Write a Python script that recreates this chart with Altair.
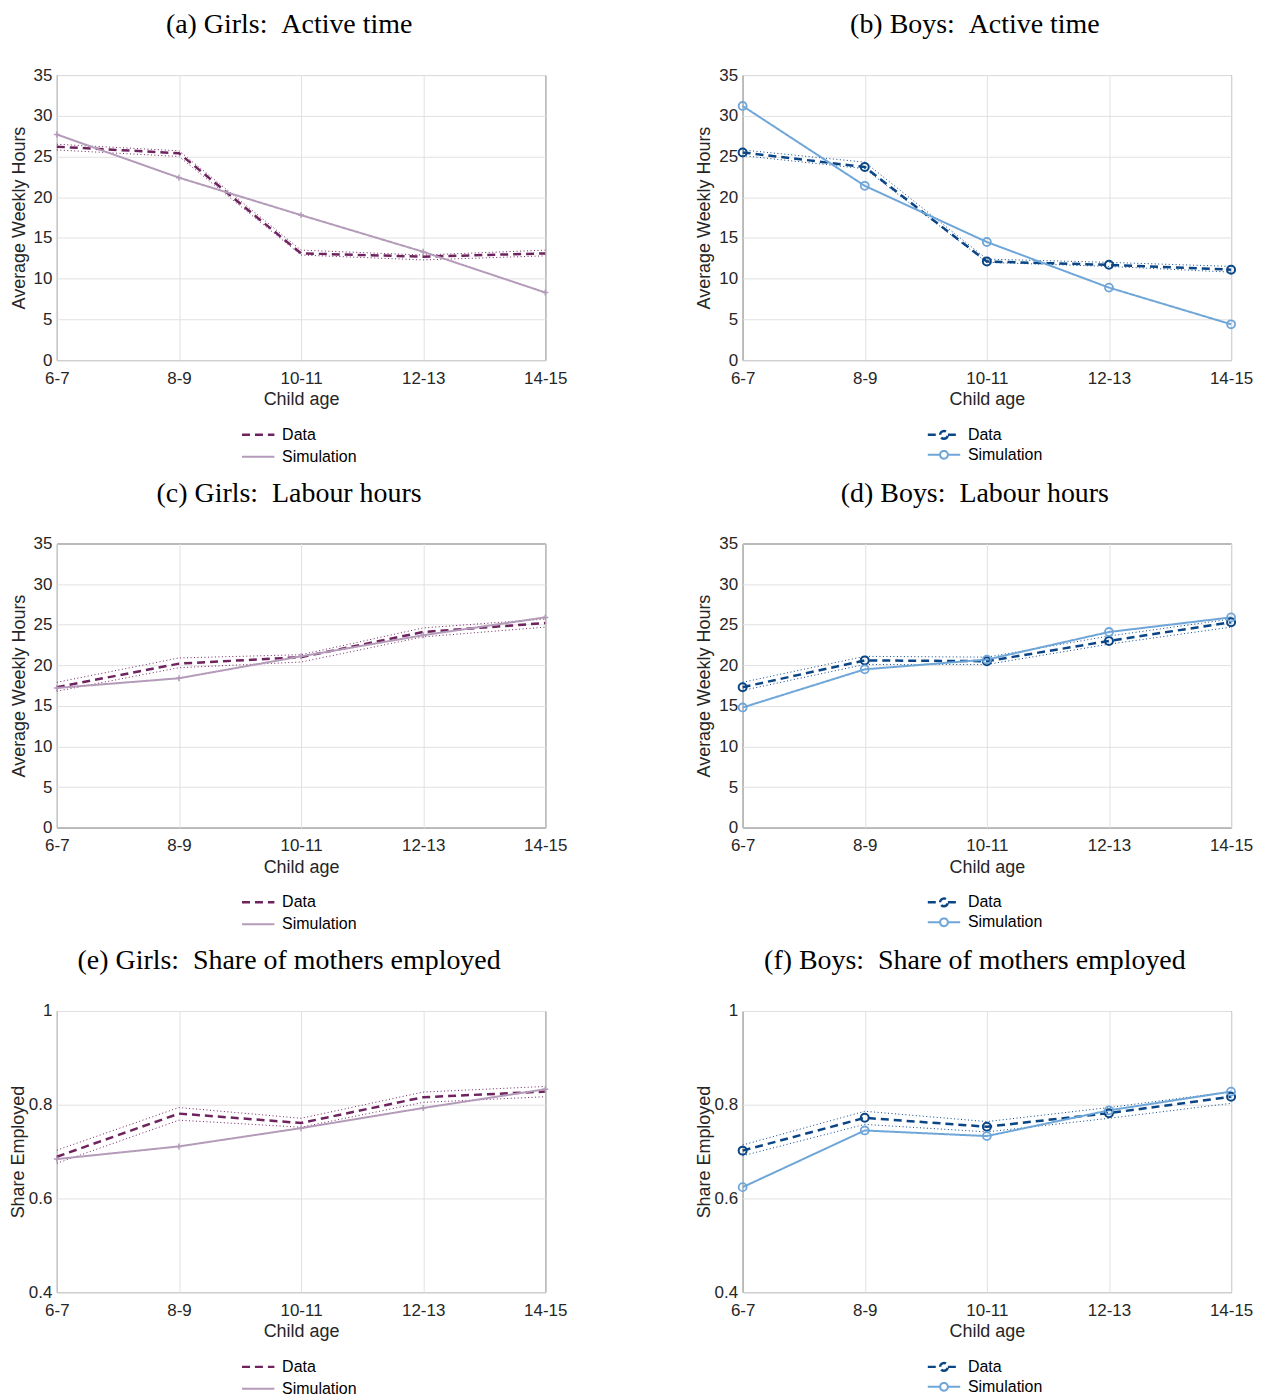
import altair as alt
import pandas as pd

ages = ["6-7", "8-9", "10-11", "12-13", "14-15"]
series_names = ["Data", "Simulation"]

# (a) Girls: Active time
ga_data = [26.2, 25.4, 13.1, 12.7, 13.1]
ga_lo = [25.8, 25.0, 12.9, 12.3, 12.8]
ga_hi = [26.5, 25.7, 13.5, 12.9, 13.5]
ga_sim = [27.7, 22.4, 17.8, 13.3, 8.3]

# (b) Boys: Active time
ba_data = [25.5, 23.7, 12.1, 11.7, 11.1]
ba_lo = [25.1, 23.5, 12.0, 11.5, 10.8]
ba_hi = [25.8, 24.3, 12.4, 12.0, 11.5]
ba_sim = [31.2, 21.4, 14.5, 8.9, 4.4]

# (c) Girls: Labour hours
gl_data = [17.3, 20.2, 21.0, 24.1, 25.2]
gl_lo = [16.8, 19.7, 20.4, 23.5, 24.7]
gl_hi = [17.9, 20.9, 21.3, 24.6, 25.7]
gl_sim = [17.2, 18.4, 21.1, 23.7, 25.9]

# (d) Boys: Labour hours
bl_data = [17.3, 20.6, 20.5, 23.0, 25.3]
bl_lo = [16.9, 20.1, 20.1, 22.6, 24.7]
bl_hi = [17.9, 21.1, 21.0, 23.6, 25.7]
bl_sim = [14.8, 19.5, 20.7, 24.1, 25.9]

# (e) Girls: Share of mothers employed
ge_data = [0.689, 0.781, 0.761, 0.816, 0.828]
ge_lo = [0.675, 0.767, 0.752, 0.805, 0.817]
ge_hi = [0.703, 0.794, 0.771, 0.827, 0.839]
ge_sim = [0.684, 0.711, 0.750, 0.793, 0.833]

# (f) Boys: Share of mothers employed
be_data = [0.702, 0.772, 0.753, 0.782, 0.817]
be_lo = [0.691, 0.758, 0.742, 0.771, 0.803]
be_hi = [0.714, 0.786, 0.764, 0.794, 0.828]
be_sim = [0.624, 0.745, 0.733, 0.788, 0.828]

GIRL_DARK, GIRL_LIGHT = "#6e235f", "#b49bb9"
BOY_DARK, BOY_LIGHT = "#0a4585", "#6fa6d8"
AXIS_COL = "#262626"
W = 490

LINE_PATH = "M-2.5,0H2.5"
CIRCLE_PATH = ("M-2.5,0H-0.6M0.6,0H2.5M-0.6,0"
               "A0.6,0.6 0 1,1 0.6,0A0.6,0.6 0 1,1 -0.6,0")
PLUS_PATH = "M-1,0H1M0,-1V1"


def panel(title, data, lo, hi, sim, boys, share, h):
    dark, light = (BOY_DARK, BOY_LIGHT) if boys else (GIRL_DARK, GIRL_LIGHT)
    df_main = pd.DataFrame({
        "age": ages * 2,
        "value": data + sim,
        "series": ["Data"] * 5 + ["Simulation"] * 5,
    })
    df_band = pd.DataFrame({
        "age": ages * 2,
        "value": lo + hi,
        "bound": ["lo"] * 5 + ["hi"] * 5,
    })
    x = alt.X("age:N", sort=ages, scale=alt.Scale(padding=0),
              axis=alt.Axis(title="Child age", labelAngle=0))
    if share:
        y = alt.Y("value:Q", scale=alt.Scale(domain=[0.4, 1], nice=False, zero=False),
                  axis=alt.Axis(values=[0.4, 0.6, 0.8, 1.0], format="~g",
                                title="Share Employed", titlePadding=1))
    else:
        y = alt.Y("value:Q", scale=alt.Scale(domain=[0, 35], nice=False),
                  axis=alt.Axis(values=list(range(0, 36, 5)), format="d",
                                title="Average Weekly Hours", titlePadding=5))

    legend = alt.Legend(
        title=None, orient="none", legendX=194, legendY=h + 67,
        symbolType=CIRCLE_PATH if boys else LINE_PATH, symbolSize=169,
        symbolStrokeWidth=2, labelOffset=16, rowPadding=3 if boys else 6, padding=0,
        labelFontSize=16, labelFont="Liberation Sans", labelColor="black",
    )
    band = alt.Chart(df_band).mark_line(
        strokeWidth=1, strokeDash=[1, 2.5], color=dark
    ).encode(x=x, y=y, detail="bound:N")
    lines = alt.Chart(df_main).mark_line().encode(
        x=x, y=y,
        color=alt.Color("series:N", scale=alt.Scale(domain=series_names, range=[dark, light]),
                        legend=legend),
        strokeDash=alt.StrokeDash("series:N",
                                  scale=alt.Scale(domain=series_names, range=[[8, 5], [1, 0]]),
                                  legend=None if boys else legend),
        strokeWidth=alt.StrokeWidth("series:N",
                                    scale=alt.Scale(domain=series_names, range=[2.5, 2]),
                                    legend=None),
        order=alt.Order("series:N", sort="ascending"),
    )
    if boys:
        pts_d = alt.Chart(df_main).transform_filter(alt.datum.series == "Data").mark_point(
            shape="circle", filled=False, size=64, strokeWidth=2, color=dark, opacity=1
        ).encode(x=x, y=y)
        pts_s = alt.Chart(df_main).transform_filter(alt.datum.series == "Simulation").mark_point(
            shape="circle", filled=False, size=64, strokeWidth=1.8, color=light, opacity=1
        ).encode(x=x, y=y)
        layers = [band, lines, pts_d, pts_s]
    else:
        pts_s = alt.Chart(df_main).transform_filter(alt.datum.series == "Simulation").mark_point(
            shape=PLUS_PATH, filled=False, size=36, strokeWidth=1.5, color=light, opacity=1
        ).encode(x=x, y=y)
        layers = [band, lines, pts_s]

    return alt.layer(*layers).properties(
        width=W, height=h,
        title=alt.TitleParams(title, font="Liberation Serif", fontSize=28,
                              fontWeight="normal", color="black", anchor="middle",
                              dx=-12, offset=27),
    )


SP = "\u2002"
pa = panel(f"(a) Girls:{SP}Active time", ga_data, ga_lo, ga_hi, ga_sim, False, False, 286)
pb = panel(f"(b) Boys:{SP}Active time", ba_data, ba_lo, ba_hi, ba_sim, True, False, 286)
pc = panel(f"(c) Girls:{SP}Labour hours", gl_data, gl_lo, gl_hi, gl_sim, False, False, 285)
pd_ = panel(f"(d) Boys:{SP}Labour hours", bl_data, bl_lo, bl_hi, bl_sim, True, False, 285)
pe = panel(f"(e) Girls:{SP}Share of mothers employed", ge_data, ge_lo, ge_hi, ge_sim, False, True, 282)
pf = panel(f"(f) Boys:{SP}Share of mothers employed", be_data, be_lo, be_hi, be_sim, True, True, 282)

chart = alt.concat(
    pa, pb, pc, pd_, pe, pf, columns=2,
    spacing={"row": 184, "column": 198}, bounds="flush",
).resolve_scale(
    color="independent", strokeDash="independent", strokeWidth="independent",
    x="independent", y="independent",
).resolve_legend(
    color="independent", strokeDash="independent"
).configure_view(
    stroke=AXIS_COL, strokeWidth=1
).configure_axis(
    domain=False, ticks=False, grid=True, gridColor="#e1e1e1", gridWidth=1,
    labelFont="Liberation Sans", labelFontSize=17, labelColor=AXIS_COL,
    titleFont="Liberation Sans", titleFontSize=18, titleColor=AXIS_COL,
    titleFontWeight="normal",
).configure_axisX(
    labelPadding=10, titlePadding=5, labelOverlap=False
).configure_axisY(
    labelPadding=5
).properties(padding={"left": 0, "top": 0, "right": 0, "bottom": 0})

chart.save("out.html", embed_options={"renderer": "svg", "actions": False})
